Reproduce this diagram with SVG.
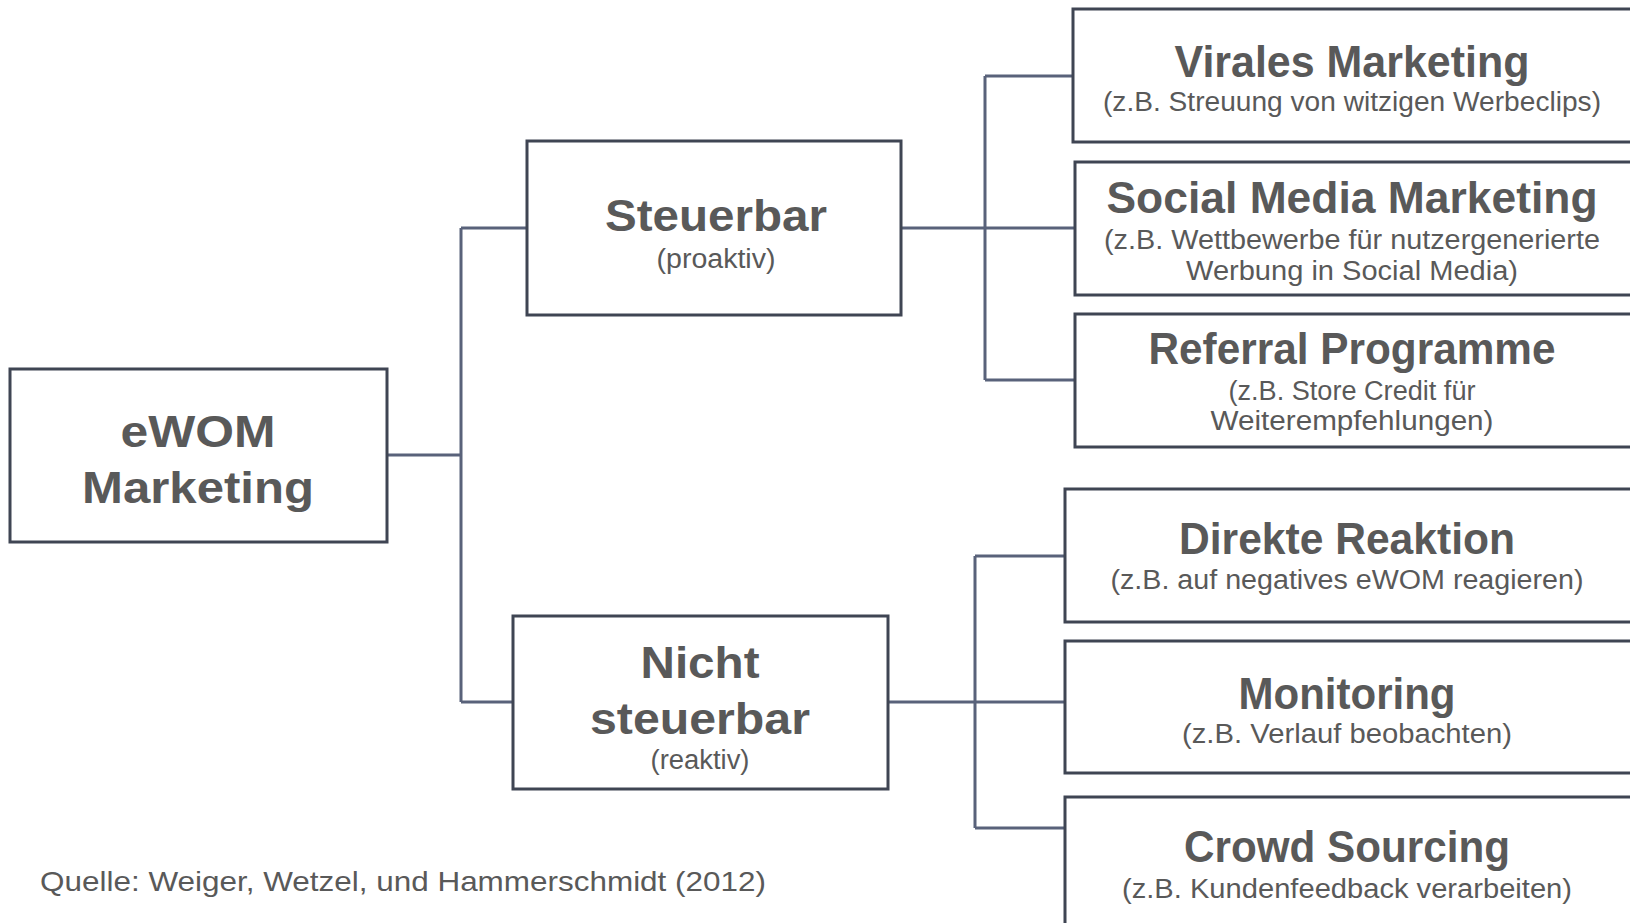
<svg xmlns="http://www.w3.org/2000/svg" width="1630" height="923" viewBox="0 0 1630 923">
<style>
.box{fill:#ffffff;stroke:#3f4553;stroke-width:3}
.con{fill:none;stroke:#59627a;stroke-width:3}
.t{font-family:"Liberation Sans",Arial,sans-serif;font-weight:bold;font-size:44px;fill:#595959;text-anchor:middle}
.s{font-family:"Liberation Sans",Arial,sans-serif;font-size:27px;fill:#595959;text-anchor:middle}
.q{font-family:"Liberation Sans",Arial,sans-serif;font-size:28px;fill:#595959}
</style>
<rect width="1630" height="923" fill="#ffffff"/>
<g id="connectors">
<path class="con" d="M387 455 H461 M461 228 V702 M461 228 H527 M461 702 H513"/>
<path class="con" d="M901 228 H1075 M985 76 V380 M985 76 H1073 M985 380 H1075"/>
<path class="con" d="M888 702 H1065 M975 556 V828 M975 556 H1065 M975 828 H1065"/>
</g>
<g id="ewom">
<rect class="box" x="10" y="369" width="377" height="173"/>
<text class="t" x="198" y="447" textLength="155" lengthAdjust="spacingAndGlyphs">eWOM</text>
<text class="t" x="198" y="503" textLength="232" lengthAdjust="spacingAndGlyphs">Marketing</text>
</g>
<g id="steuerbar">
<rect class="box" x="527" y="141" width="374" height="174"/>
<text class="t" x="716" y="231" textLength="222" lengthAdjust="spacingAndGlyphs">Steuerbar</text>
<text class="s" x="716" y="268" textLength="119" lengthAdjust="spacingAndGlyphs">(proaktiv)</text>
</g>
<g id="nicht-steuerbar">
<rect class="box" x="513" y="616" width="375" height="173"/>
<text class="t" x="700" y="678" textLength="119" lengthAdjust="spacingAndGlyphs">Nicht</text>
<text class="t" x="700" y="734" textLength="220" lengthAdjust="spacingAndGlyphs">steuerbar</text>
<text class="s" x="700" y="769" textLength="99" lengthAdjust="spacingAndGlyphs">(reaktiv)</text>
</g>
<g id="virales">
<rect class="box" x="1073" y="9" width="580" height="133"/>
<text class="t" x="1352" y="77" textLength="355" lengthAdjust="spacingAndGlyphs">Virales Marketing</text>
<text class="s" x="1352" y="111" textLength="498" lengthAdjust="spacingAndGlyphs">(z.B. Streuung von witzigen Werbeclips)</text>
</g>
<g id="social">
<rect class="box" x="1075" y="162" width="580" height="133"/>
<text class="t" x="1352" y="213" textLength="491" lengthAdjust="spacingAndGlyphs">Social Media Marketing</text>
<text class="s" x="1352" y="249" textLength="496" lengthAdjust="spacingAndGlyphs">(z.B. Wettbewerbe für nutzergenerierte</text>
<text class="s" x="1352" y="280" textLength="332" lengthAdjust="spacingAndGlyphs">Werbung in Social Media)</text>
</g>
<g id="referral">
<rect class="box" x="1075" y="314" width="580" height="133"/>
<text class="t" x="1352" y="364" textLength="407" lengthAdjust="spacingAndGlyphs">Referral Programme</text>
<text class="s" x="1352" y="400" textLength="247" lengthAdjust="spacingAndGlyphs">(z.B. Store Credit für</text>
<text class="s" x="1352" y="430" textLength="283" lengthAdjust="spacingAndGlyphs">Weiterempfehlungen)</text>
</g>
<g id="direkte">
<rect class="box" x="1065" y="489" width="590" height="133"/>
<text class="t" x="1347" y="554" textLength="336" lengthAdjust="spacingAndGlyphs">Direkte Reaktion</text>
<text class="s" x="1347" y="589" textLength="473" lengthAdjust="spacingAndGlyphs">(z.B. auf negatives eWOM reagieren)</text>
</g>
<g id="monitoring">
<rect class="box" x="1065" y="641" width="590" height="132"/>
<text class="t" x="1347" y="709" textLength="217" lengthAdjust="spacingAndGlyphs">Monitoring</text>
<text class="s" x="1347" y="743" textLength="330" lengthAdjust="spacingAndGlyphs">(z.B. Verlauf beobachten)</text>
</g>
<g id="crowd">
<rect class="box" x="1065" y="797" width="590" height="150"/>
<text class="t" x="1347" y="862" textLength="326" lengthAdjust="spacingAndGlyphs">Crowd Sourcing</text>
<text class="s" x="1347" y="898" textLength="450" lengthAdjust="spacingAndGlyphs">(z.B. Kundenfeedback verarbeiten)</text>
</g>
<g id="source">
<text class="q" x="40" y="891" textLength="726" lengthAdjust="spacingAndGlyphs">Quelle: Weiger, Wetzel, und Hammerschmidt (2012)</text>
</g>
</svg>
